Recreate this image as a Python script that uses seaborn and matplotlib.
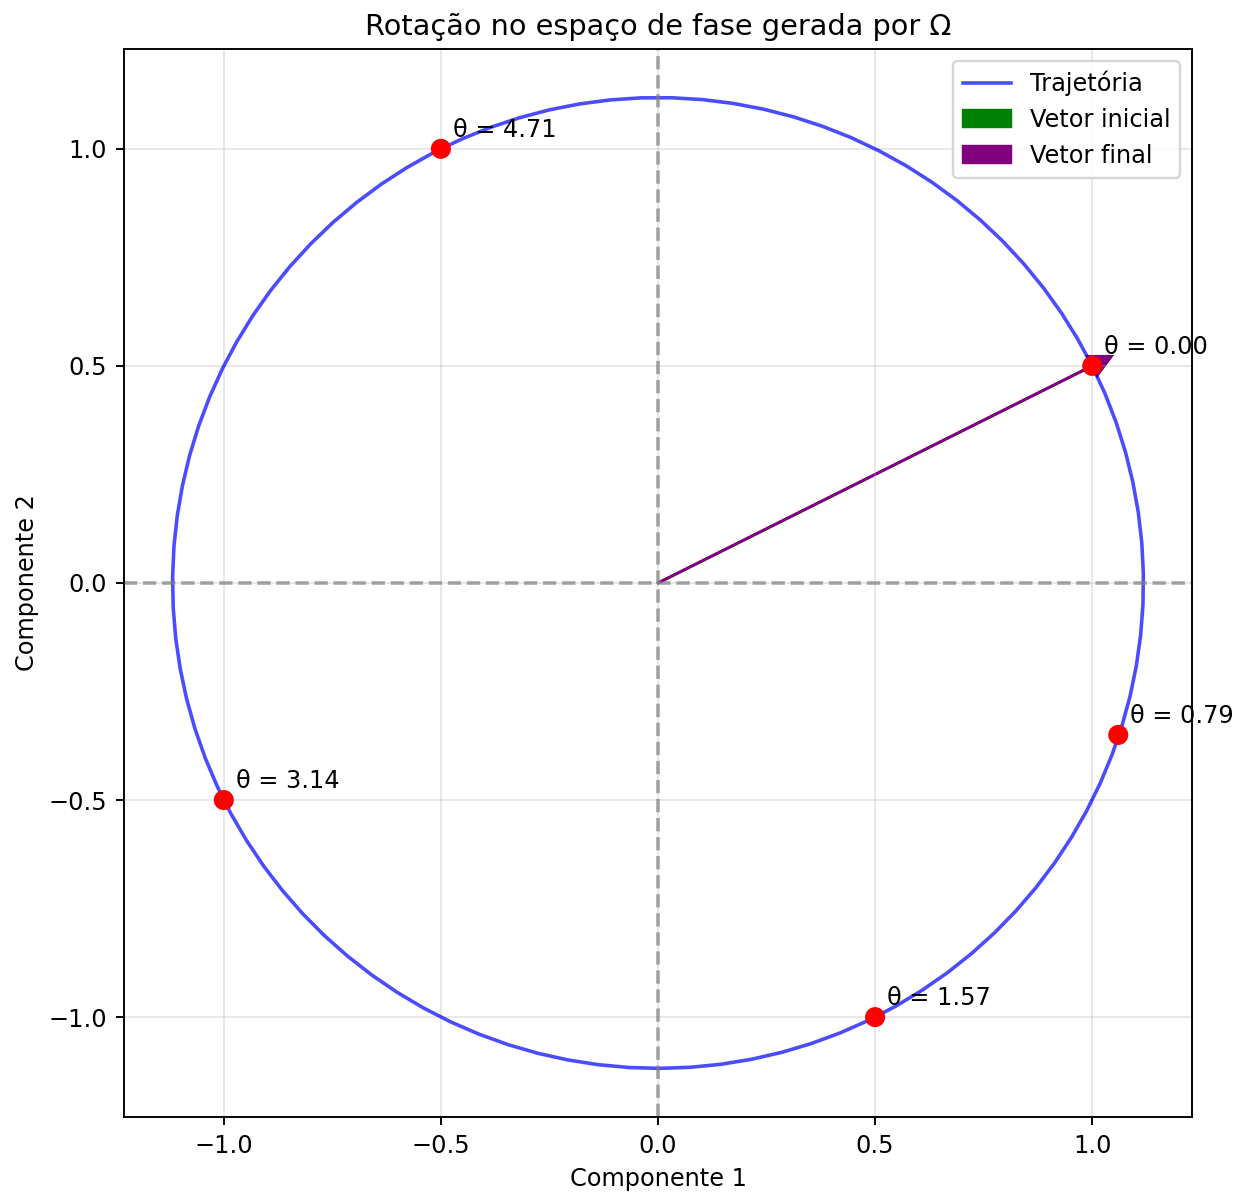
import numpy as np
import pandas as pd
import matplotlib
matplotlib.use("Agg")
import matplotlib.pyplot as plt
import seaborn as sns

# initial vector and rotation angles used for the markers
v0 = [1.0, 0.5]
theta_marks = [0.0, 0.79, 1.57, 3.14, 4.71]
x_marks = [1.0, 1.06, 0.5, -1.0, -0.5]
y_marks = [0.5, -0.35, -1.0, -0.5, 1.0]
final_vec = [1.0, 0.5]

# trajectory: rotation of the initial vector by Omega
theta = np.linspace(0, 2 * np.pi, 100)
traj = pd.DataFrame({
    "x": v0[0] * np.cos(theta) + v0[1] * np.sin(theta),
    "y": -v0[0] * np.sin(theta) + v0[1] * np.cos(theta),
})
marks = pd.DataFrame({"x": x_marks, "y": y_marks, "theta": theta_marks})

DPI = 172.5
fig = plt.figure(figsize=(1242 / DPI, 1194 / DPI), dpi=DPI)
ax = fig.add_axes([0.0998, 0.0645, 0.86, 0.8945])

sns.lineplot(data=traj, x="x", y="y", sort=False, color="blue", alpha=0.7,
             linewidth=1.5, label="Trajetória", ax=ax)

ax.arrow(0, 0, v0[0], v0[1], head_width=0.05, head_length=0.05,
         fc="green", ec="green", label="Vetor inicial")
ax.arrow(0, 0, final_vec[0], final_vec[1], head_width=0.05, head_length=0.05,
         fc="purple", ec="purple", label="Vetor final")

sns.scatterplot(data=marks, x="x", y="y", color="red", s=70,
                edgecolor="none", zorder=5, ax=ax, legend=False)
for _, r in marks.iterrows():
    ax.annotate(f"θ = {r['theta']:.2f}", (r["x"], r["y"]),
                xytext=(5, 5), textcoords="offset points", fontsize=10)

ax.axhline(0, color="gray", linestyle="--", alpha=0.7)
ax.axvline(0, color="gray", linestyle="--", alpha=0.7)
ax.grid(True, alpha=0.3)
ax.set_xlim(-1.23, 1.23)
ax.set_ylim(-1.23, 1.23)
ax.set_xticks([-1.0, -0.5, 0.0, 0.5, 1.0])
ax.set_yticks([-1.0, -0.5, 0.0, 0.5, 1.0])
ax.set_xlabel("Componente 1")
ax.set_ylabel("Componente 2")
ax.set_title("Rotação no espaço de fase gerada por Ω")
ax.legend(loc="upper right")

fig.savefig("out.png", dpi=DPI)
